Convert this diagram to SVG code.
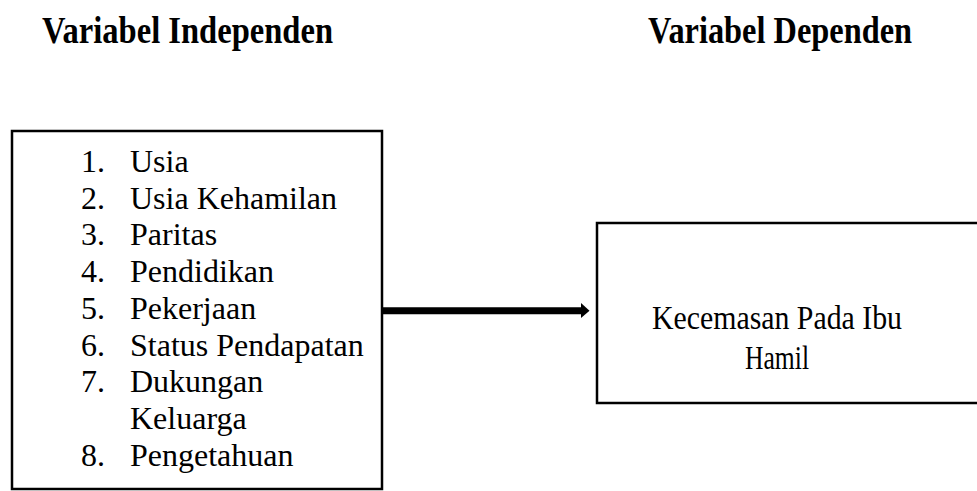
<svg xmlns="http://www.w3.org/2000/svg" width="977" height="491" viewBox="0 0 977 491">
<style>
.hdr{font-family:"Liberation Serif","Times New Roman",serif;font-weight:bold;font-size:37px;fill:#000}
.item{font-family:"Liberation Serif","Times New Roman",serif;font-size:32px;fill:#000}
.lbl{font-family:"Liberation Serif","Times New Roman",serif;font-size:34px;fill:#000}
.box{fill:#fff;stroke:#000;stroke-width:2.5}
</style>
<rect width="977" height="491" fill="#fff"/>
<text class="hdr" x="42" y="43" textLength="291" lengthAdjust="spacingAndGlyphs">Variabel Independen</text>
<text class="hdr" x="648" y="43" textLength="264" lengthAdjust="spacingAndGlyphs">Variabel Dependen</text>
<g id="independen">
<rect class="box" x="12" y="131" width="370" height="358"/>
<g class="item">
<text x="81" y="172">1.</text><text x="130" y="172">Usia</text>
<text x="81" y="208.7">2.</text><text x="130" y="208.7">Usia Kehamilan</text>
<text x="81" y="245.4">3.</text><text x="130" y="245.4">Paritas</text>
<text x="81" y="282.1">4.</text><text x="130" y="282.1">Pendidikan</text>
<text x="81" y="318.8">5.</text><text x="130" y="318.8">Pekerjaan</text>
<text x="81" y="355.5">6.</text><text x="130" y="355.5">Status Pendapatan</text>
<text x="81" y="392.2">7.</text><text x="130" y="392.2">Dukungan</text>
<text x="130" y="428.9">Keluarga</text>
<text x="81" y="465.6">8.</text><text x="130" y="465.6">Pengetahuan</text>
</g>
</g>
<g id="dependen">
<rect class="box" x="597" y="223" width="400" height="180"/>
<text class="lbl" x="777" y="329" text-anchor="middle" textLength="250" lengthAdjust="spacingAndGlyphs">Kecemasan Pada Ibu</text>
<text class="lbl" x="777" y="369" text-anchor="middle" textLength="64" lengthAdjust="spacingAndGlyphs">Hamil</text>
</g>
<g id="connectors">
<line x1="383" y1="310.7" x2="583" y2="310.7" stroke="#000" stroke-width="7"/>
<polygon points="581,303 589.5,310.7 581,318" fill="#000"/>
</g>
</svg>
